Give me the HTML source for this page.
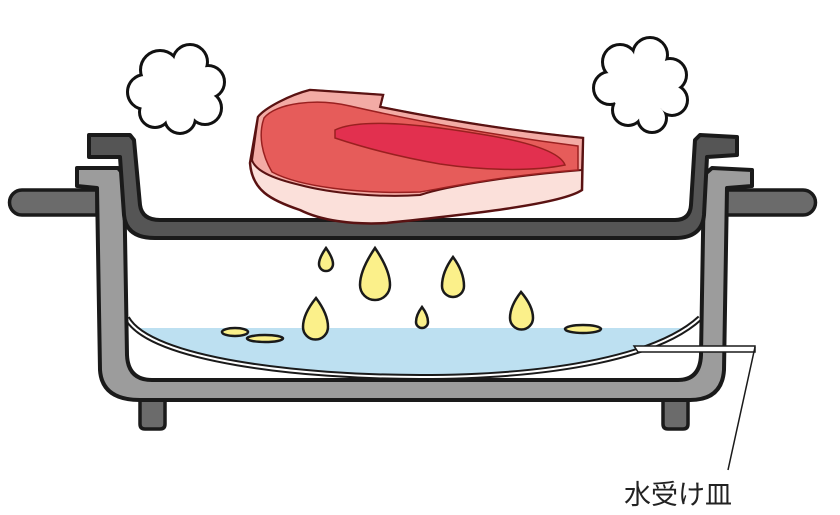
<!DOCTYPE html>
<html><head><meta charset="utf-8"><style>
html,body{margin:0;padding:0;background:#fff;width:840px;height:515px;overflow:hidden}
</style></head><body>
<svg width="840" height="515" viewBox="0 0 840 515" xmlns="http://www.w3.org/2000/svg">
<defs>
<clipPath id="wc"><rect x="0" y="328" width="840" height="100"/></clipPath>
</defs>
<rect width="840" height="515" fill="#fff"/>
<!-- steam -->
<g stroke="#111" stroke-width="6" fill="#111">
<circle cx="160" cy="70" r="18"/><circle cx="190" cy="62" r="16"/><circle cx="208" cy="82" r="15"/><circle cx="205" cy="108" r="15"/><circle cx="180" cy="118" r="14"/><circle cx="155" cy="112" r="14"/><circle cx="145" cy="92" r="16"/><circle cx="178" cy="90" r="28"/>
<circle cx="620" cy="62" r="16"/><circle cx="650" cy="55" r="16"/><circle cx="670" cy="75" r="15"/><circle cx="672" cy="100" r="14"/><circle cx="652" cy="118" r="13"/><circle cx="628" cy="110" r="14"/><circle cx="610" cy="88" r="15"/><circle cx="640" cy="88" r="29"/>
</g>
<g fill="#fff">
<circle cx="160" cy="70" r="18"/><circle cx="190" cy="62" r="16"/><circle cx="208" cy="82" r="15"/><circle cx="205" cy="108" r="15"/><circle cx="180" cy="118" r="14"/><circle cx="155" cy="112" r="14"/><circle cx="145" cy="92" r="16"/><circle cx="178" cy="90" r="28"/>
<circle cx="620" cy="62" r="16"/><circle cx="650" cy="55" r="16"/><circle cx="670" cy="75" r="15"/><circle cx="672" cy="100" r="14"/><circle cx="652" cy="118" r="13"/><circle cx="628" cy="110" r="14"/><circle cx="610" cy="88" r="15"/><circle cx="640" cy="88" r="29"/>
</g>
<!-- handles -->
<path d="M97,190 L22,190 A12.5,12.5 0 0 0 22,215 L97,215 Z" fill="#6b6b6b" stroke="#1a1a1a" stroke-width="3.5"/>
<path d="M724,190 L803,190 A12.5,12.5 0 0 1 803,215 L724,215 Z" fill="#6b6b6b" stroke="#1a1a1a" stroke-width="3.5"/>
<!-- legs -->
<path d="M140,396 L165,396 L165,424 Q165,429 160,429 L145,429 Q140,429 140,424 Z" fill="#6b6b6b" stroke="#1a1a1a" stroke-width="3.5"/>
<path d="M663,396 L688,396 L688,424 Q688,429 683,429 L668,429 Q663,429 663,424 Z" fill="#6b6b6b" stroke="#1a1a1a" stroke-width="3.5"/>
<!-- water -->
<path d="M127,318 C150,360 300,377 420,377 C560,377 660,355 700,318 Z" fill="#bde0f1" clip-path="url(#wc)"/>
<!-- tray -->
<path d="M127,318 C150,360 300,377 420,377 C560,377 660,355 700,318" fill="none" stroke="#1a1a1a" stroke-width="6"/>
<path d="M127,318 C150,360 300,377 420,377 C560,377 660,355 700,318" fill="none" stroke="#fff" stroke-width="2"/>
<!-- outer pot -->
<path d="M77,168 L118,168 L124,175 L127,355 Q128,380 152,380 L678,380 Q700,380 701,355 L704,175 L712,168 L752,170 L752,186 L727,188 L724,370 Q722,400 690,400 L140,400 Q102,400 100,370 L97,188 L77,186 Z" fill="#9c9c9c" stroke="#1a1a1a" stroke-width="4" stroke-linejoin="round"/>
<!-- inner pan -->
<path d="M89,135 L130,135 L134,140 L140,205 Q142,220 160,220 L675,220 Q690,220 691,205 L695,140 L700,135 L737,137 L737,155 L707,157 L704,215 Q702,238 675,238 L155,238 Q126,238 124,215 L120,157 L89,157 Z" fill="#555" stroke="#1a1a1a" stroke-width="4" stroke-linejoin="round"/>
<!-- meat -->
<path d="M258,117 C265,108 290,95 310,90 L383,95 L380,107 C420,115 500,130 583,138 L582,190 C560,205 460,215 387,223 C350,225 320,220 300,210 C270,200 252,190 250,163 Z" fill="#fbe0da" stroke="#5a1212" stroke-width="2.5"/>
<path d="M258,117 C265,108 290,95 310,90 L383,95 L380,107 C420,115 500,130 583,138 L582,170 C520,175 450,185 420,195 C380,198 330,193 300,185 C270,178 255,170 252,160 Z" fill="#f3aba5" stroke="#5a1212" stroke-width="2"/>
<path d="M264,118 C276,103 316,98 350,106 C420,122 500,136 578,146 L578,170 C500,176 450,187 420,192 C360,194 300,187 272,172 C262,155 258,135 264,118 Z" fill="#e65c5a" stroke="#9a2020" stroke-width="1.5"/>
<path d="M335,130 C360,118 420,124 480,134 C530,142 560,152 565,165 C530,172 480,170 440,164 C400,157 365,148 335,138 Z" fill="#e2304f" stroke="#9a2020" stroke-width="1.5"/>
<!-- drops -->
<g fill="#fbf08a" stroke="#1a1a1a" stroke-width="2.5">
<path d="M326,248 Q333,258 333,264 A7,7 0 0 1 319,264 Q319,258 326,248 Z"/>
<path d="M375,248 Q390,270 390,285 A15,15 0 0 1 360,285 Q360,270 375,248 Z"/>
<path d="M453,257 Q464,272 464,286 A11,11 0 0 1 442,286 Q442,272 453,257 Z"/>
<path d="M316,298 Q328,314 328,327 A12.5,12.5 0 0 1 303,327 Q303,314 316,298 Z"/>
<path d="M422,307 Q428,315 428,322 A6,6 0 0 1 416,322 Q416,315 422,307 Z"/>
<path d="M521,292 Q533,306 533,318 A11.5,11.5 0 0 1 510,318 Q510,306 521,292 Z"/>
<ellipse cx="235" cy="332" rx="13" ry="4"/>
<ellipse cx="265" cy="338.5" rx="18" ry="3.5"/>
<ellipse cx="583" cy="329" rx="18" ry="4"/>
</g>
<!-- leader -->
<path d="M634,346 L755,346 L755,352 L638,352 Z" fill="#fff" stroke="#1a1a1a" stroke-width="1.5"/>
<line x1="755" y1="347" x2="728" y2="470" stroke="#1a1a1a" stroke-width="1.5"/>
<text x="624" y="504" font-family="'Liberation Sans','Noto Sans CJK JP',sans-serif" font-size="27" fill="#222">水受け皿</text>
</svg>
</body></html>
